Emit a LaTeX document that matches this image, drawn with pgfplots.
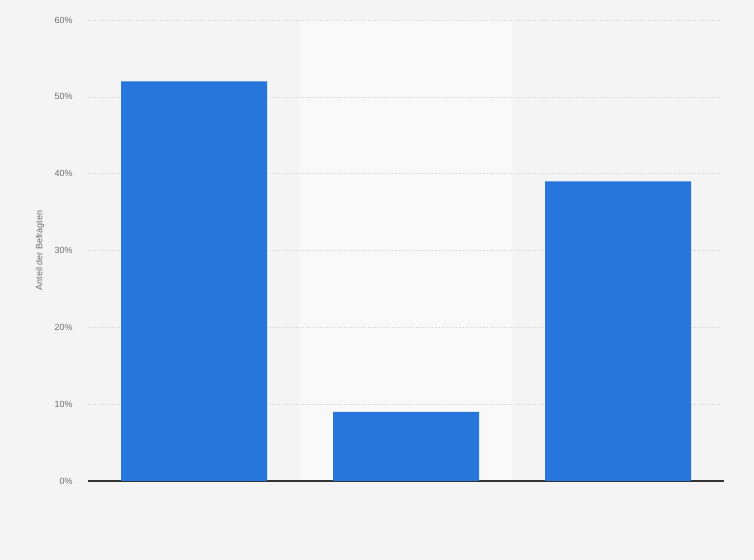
\documentclass[border=0pt]{standalone}
\usepackage{pgfplots}
\pgfplotsset{compat=1.18}
\usepackage{fontspec}
\setmainfont{Liberation Sans}
\definecolor{bg}{HTML}{F4F4F4}
\definecolor{band}{HTML}{F9F9F9}
\definecolor{barblue}{HTML}{2776DB}
\definecolor{gridc}{HTML}{D2D2D2}
\definecolor{lab}{HTML}{6E6E6E}
\begin{document}
\begin{tikzpicture}
\path[fill=bg] (0,0) rectangle (754bp,560bp);
\path[fill=band] (300bp,79bp) rectangle (512bp,540bp);
\begin{axis}[
  at={(88bp,79bp)}, anchor=south west,
  scale only axis, width=636bp, height=461bp,
  xmin=-0.5, xmax=2.5, ymin=0, ymax=60,
  xtick=\empty,
  ytick={0,10,20,30,40,50,60},
  yticklabel={\pgfmathprintnumber{\tick}\%},
  /pgf/number format/assume math mode=true,
  yticklabel style={font=\fontsize{9}{10}\selectfont, text=lab, xshift=-12bp},
  major tick length=0pt,
  ymajorgrids,
  major grid style={dotted, line width=0.6bp, color=gridc},
  axis lines*=left,
  y axis line style={draw=none},
  x axis line style={draw=black!80, line width=1.2bp},
  ylabel={Anteil der Befragten},
  every axis y label/.style={at={(axis description cs:-0.0755,0.5)}, rotate=90, anchor=center, font=\fontsize{9}{10}\selectfont, text=lab},
  ybar, bar width=146bp, bar shift=0pt,
  clip=false,
]
\addplot[fill=barblue, draw=none] coordinates {(0,52) (1,9) (2,39)};
\end{axis}
\end{tikzpicture}
\end{document}
